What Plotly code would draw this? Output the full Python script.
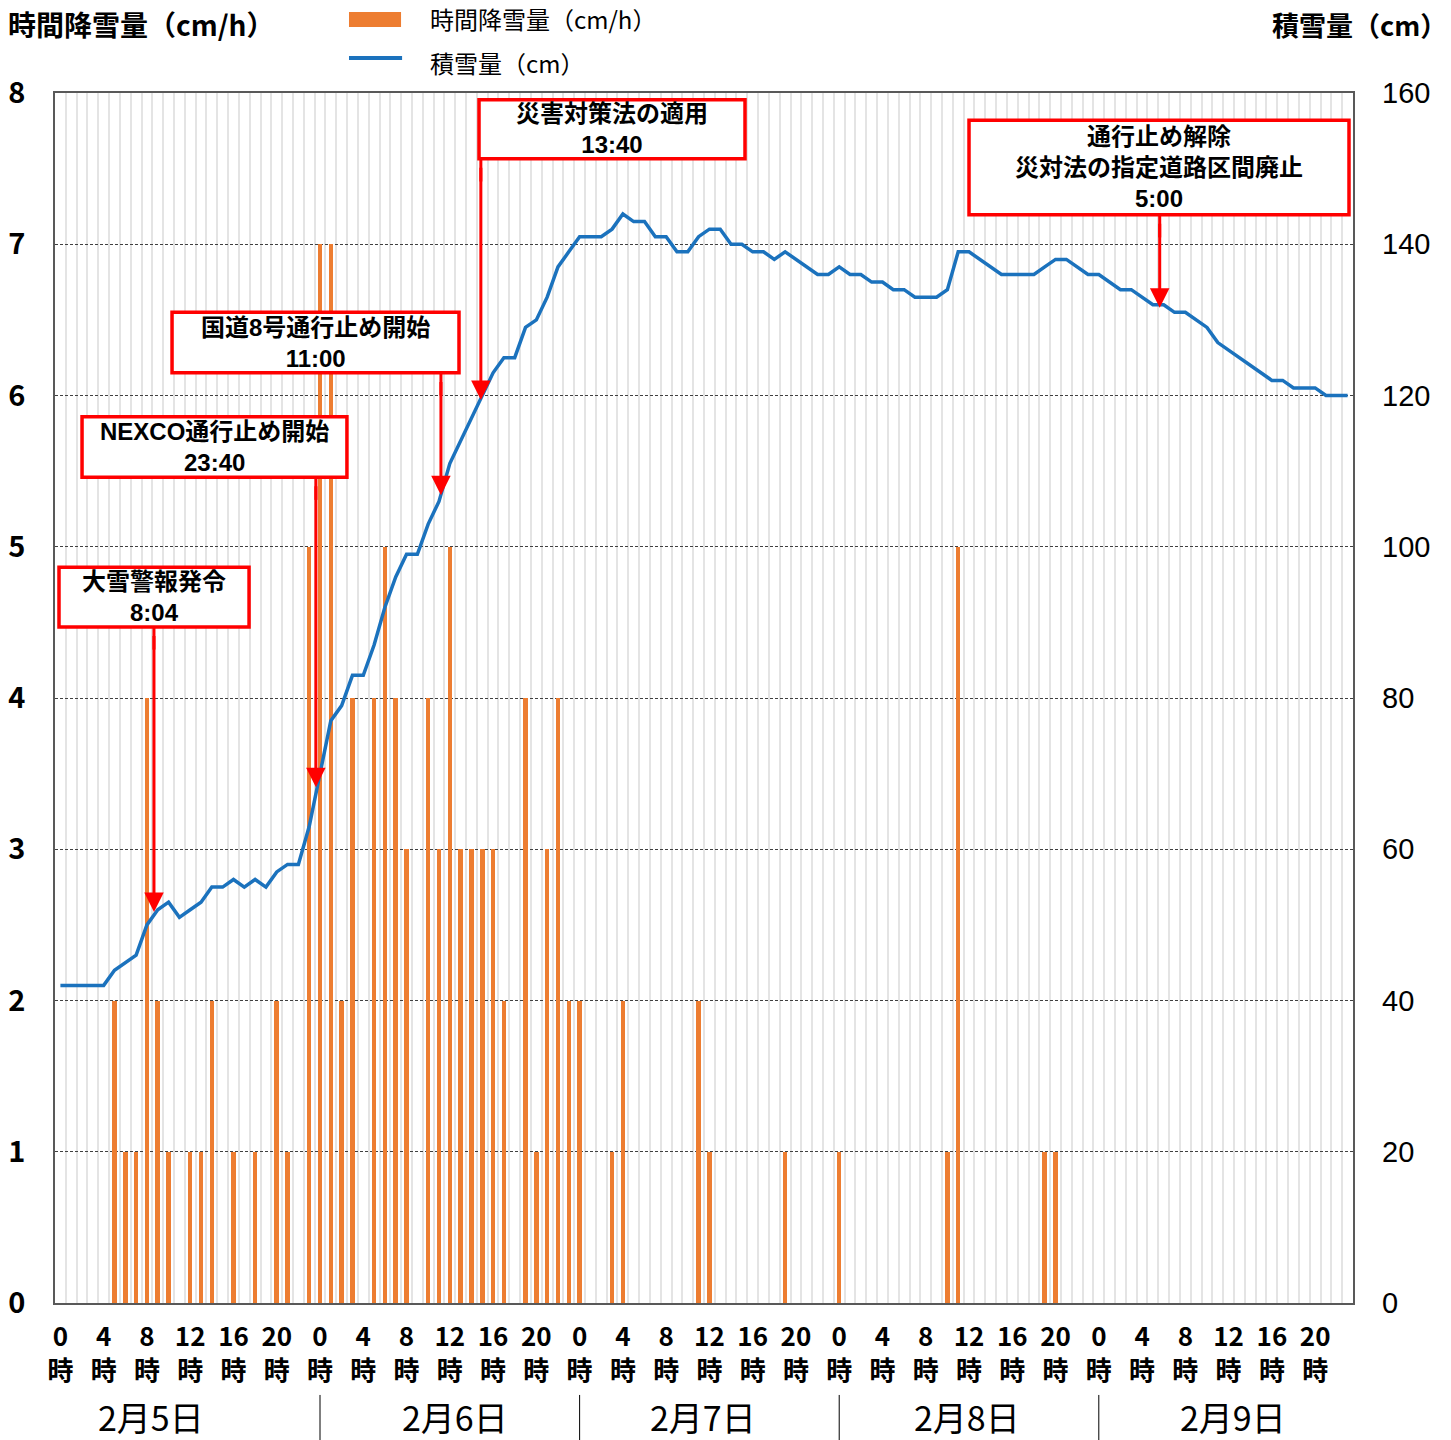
import plotly.graph_objects as go

# ---- data -------------------------------------------------------------
days = ["2月5日", "2月6日", "2月7日", "2月8日", "2月9日"]
hour_ticks = [0, 4, 8, 12, 16, 20]

# hourly snowfall (cm/h), 24 values per day
snowfall_0205 = [0, 0, 0, 0, 0, 2, 1, 1, 4, 2, 1, 0, 1, 1, 2, 0, 1, 0, 1, 0, 2, 1, 0, 5]
snowfall_0206 = [7, 7, 2, 4, 0, 4, 5, 4, 3, 0, 4, 3, 5, 3, 3, 3, 3, 2, 0, 4, 1, 3, 4, 2]
snowfall_0207 = [2, 0, 0, 1, 2, 0, 0, 0, 0, 0, 0, 2, 1, 0, 0, 0, 0, 0, 0, 1, 0, 0, 0, 0]
snowfall_0208 = [1, 0, 0, 0, 0, 0, 0, 0, 0, 0, 1, 5, 0, 0, 0, 0, 0, 0, 0, 1, 1, 0, 0, 0]
snowfall_0209 = [0] * 24

# snow depth (cm), 24 values per day
depth_0205 = [42, 42, 42, 42, 42, 44, 45, 46, 50, 52, 53, 51, 52, 53, 55, 55, 56, 55, 56, 55, 57, 58, 58, 63]
depth_0206 = [70, 77, 79, 83, 83, 87, 92, 96, 99, 99, 103, 106, 111, 114, 117, 120, 123, 125, 125, 129, 130, 133, 137, 139]
depth_0207 = [141, 141, 141, 142, 144, 143, 143, 141, 141, 139, 139, 141, 142, 142, 140, 140, 139, 139, 138, 139, 138, 137, 136, 136]
depth_0208 = [137, 136, 136, 135, 135, 134, 134, 133, 133, 133, 134, 139, 139, 138, 137, 136, 136, 136, 136, 137, 138, 138, 137, 136]
depth_0209 = [136, 135, 134, 134, 133, 132, 132, 131, 131, 130, 129, 127, 126, 125, 124, 123, 122, 122, 121, 121, 121, 120, 120, 120]

snowfall = snowfall_0205 + snowfall_0206 + snowfall_0207 + snowfall_0208 + snowfall_0209
depth = depth_0205 + depth_0206 + depth_0207 + depth_0208 + depth_0209
hours = list(range(len(snowfall)))

# centre of each date label along the hour axis
day_centers = [8.37, 36.5, 59.45, 83.86, 108.45]

# event call-outs: text lines, box extent (hours, cm), arrow x (hours), arrow tip (cm)
events = [
    dict(lines=["大雪警報発令", "8:04"], box=(-0.13, 17.44, 89.4, 97.3),
         arrow_x=8.65, tip=51.7),
    dict(lines=["NEXCO通行止め開始", "23:40"], box=(2.0, 26.49, 109.2, 117.2),
         arrow_x=23.62, tip=68.2),
    dict(lines=["国道8号通行止め開始", "11:00"], box=(10.32, 36.85, 123.0, 131.0),
         arrow_x=35.18, tip=106.8),
    dict(lines=["災害対策法の適用", "13:40"], box=(38.70, 63.29, 151.3, 159.1),
         arrow_x=38.87, tip=119.4),
    dict(lines=["通行止め解除", "災対法の指定道路区間廃止", "5:00"], box=(84.0, 119.13, 143.9, 156.4),
         arrow_x=101.63, tip=131.6),
]

BAR_COLOR = "#ED7D31"
LINE_COLOR = "#1B72BD"
RED = "#FF0000"
CJK = "Noto Sans CJK JP"
NARROW = "Liberation Sans Narrow, Arial Narrow, Noto Sans CJK JP"
BOX_FONT = "Liberation Sans, Noto Sans CJK JP"

tick_vals = [d * 24 + h for d in range(len(days)) for h in hour_ticks]
tick_text = [f"{h}<br>時" for d in range(len(days)) for h in hour_ticks]

fig = go.Figure()
fig.add_bar(x=hours, y=snowfall, width=0.42, marker=dict(color=BAR_COLOR, line_width=0),
            name="時間降雪量（cm/h）", yaxis="y")
fig.add_scatter(x=hours, y=depth, mode="lines", line=dict(color=LINE_COLOR, width=3.5),
                name="積雪量（cm）", yaxis="y2")

fig.update_layout(
    width=1451, height=1440,
    margin=dict(l=55, r=98, t=93, b=137, autoexpand=False),
    plot_bgcolor="white", paper_bgcolor="white",
    showlegend=False,
    font=dict(family=CJK, color="black"),
    bargap=0,
    xaxis=dict(
        range=[-0.5, 119.5], tickmode="array", tickvals=tick_vals, ticktext=tick_text,
        showgrid=False, ticks="", zeroline=False,
        tickfont=dict(family=NARROW, size=26, weight="bold"),
        ticklabelstandoff=10,
        showline=True, linecolor="#595959", linewidth=1.5, mirror=True,
        minor=dict(tickmode="linear", tick0=0.5, dtick=1, showgrid=True,
                   gridcolor="#e4e4e4", gridwidth=2, ticks=""),
    ),
    yaxis=dict(
        range=[0, 8], dtick=1, showgrid=True, gridcolor="#404040", gridwidth=1,
        griddash="3px,2px", zeroline=False, ticks="",
        tickfont=dict(family=NARROW, size=29, weight="bold"),
        ticklabelstandoff=22,
        showline=True, linecolor="#595959", linewidth=1.5, mirror=True,
    ),
    yaxis2=dict(
        range=[0, 160], dtick=20, overlaying="y", side="right", showgrid=False,
        zeroline=False, ticks="", tickfont=dict(family="Liberation Sans, Arial", size=29),
        ticklabelstandoff=28,
    ),
)

shapes = []
annotations = []

# axis titles
annotations.append(dict(text="時間降雪量（cm/h）", xref="paper", yref="paper", x=-0.038, y=1.057,
                        xanchor="left", yanchor="middle", showarrow=False,
                        font=dict(size=28, weight="bold")))
annotations.append(dict(text="積雪量（cm）", xref="paper", yref="paper", x=1.074, y=1.057,
                        xanchor="right", yanchor="middle", showarrow=False,
                        font=dict(size=27, weight="bold")))

# legend
shapes.append(dict(type="rect", xref="paper", yref="paper", x0=0.2265, x1=0.2666,
                   y0=1.0545, y1=1.0669, fillcolor=BAR_COLOR, line_width=0))
shapes.append(dict(type="line", xref="paper", yref="paper", x0=0.2265, x1=0.2674,
                   y0=1.0289, y1=1.0289, line=dict(color=LINE_COLOR, width=4)))
annotations.append(dict(text="時間降雪量（cm/h）", xref="paper", yref="paper", x=0.2874, y=1.0612,
                        xanchor="left", yanchor="middle", showarrow=False, font=dict(size=24)))
annotations.append(dict(text="積雪量（cm）", xref="paper", yref="paper", x=0.2874, y=1.0256,
                        xanchor="left", yanchor="middle", showarrow=False, font=dict(size=24)))

# date row and separators between days
for i, day in enumerate(days):
    annotations.append(dict(text=day, xref="x", yref="paper", x=day_centers[i], y=-0.0935,
                            xanchor="center", yanchor="middle", showarrow=False,
                            font=dict(family=NARROW, size=34)))
    if i > 0:
        shapes.append(dict(type="line", xref="x", yref="paper", x0=24 * i, x1=24 * i,
                           y0=-0.076, y1=-0.114, line=dict(color="black", width=1)))

# event call-outs: white box with red frame, text, and red arrow down to the depth line
for ev in events:
    x0, x1, y0, y1 = ev["box"]
    shapes.append(dict(type="rect", xref="x", yref="y2", x0=x0, x1=x1, y0=y0, y1=y1,
                       fillcolor="white", line=dict(color=RED, width=3.5), layer="above"))
    # arrow shaft leaving the lower frame of the box
    shapes.append(dict(type="line", xref="x", yref="y2", x0=ev["arrow_x"], x1=ev["arrow_x"],
                       y0=y0, y1=y0 - 3.0, line=dict(color=RED, width=3), layer="above"))
    annotations.append(dict(text="<br>".join(ev["lines"]), xref="x", yref="y2",
                            x=(x0 + x1) / 2, y=(y0 + y1) / 2,
                            xanchor="center", yanchor="middle", showarrow=False,
                            font=dict(family=BOX_FONT, size=24, weight="bold")))
    annotations.append(dict(text="", xref="x", yref="y2", x=ev["arrow_x"], y=ev["tip"],
                            axref="x", ayref="y2", ax=ev["arrow_x"], ay=y0 - 1.0,
                            showarrow=True, arrowhead=2, arrowsize=1.3, arrowwidth=3,
                            arrowcolor=RED, standoff=0, startstandoff=0))

fig.update_layout(shapes=shapes, annotations=annotations)
fig.write_html("out.html")
